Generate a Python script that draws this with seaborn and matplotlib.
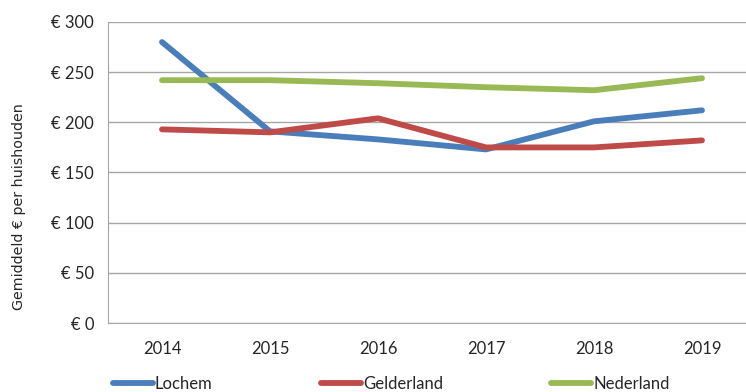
import pandas as pd
import numpy as np
import matplotlib
matplotlib.use("Agg")
import matplotlib.pyplot as plt
from matplotlib.ticker import FixedLocator, FuncFormatter
import seaborn as sns

# values
years = ["2014", "2015", "2016", "2017", "2018", "2019"]
lochem = [280, 191, 183, 173, 201, 212]
gelderland = [193, 190, 204, 175, 175, 182]
nederland = [242, 242, 239, 235, 232, 244]

series_names = ["Lochem", "Gelderland", "Nederland"]
colors = ["#4A7EBB", "#BE4B48", "#98B954"]

df = pd.DataFrame({
    "jaar": years * 3,
    "waarde": lochem + gelderland + nederland,
    "regio": np.repeat(series_names, len(years)),
})

sns.set_style("white")
plt.rcParams["font.family"] = ["Lato", "DejaVu Sans"]

fig = plt.figure(figsize=(7.46, 3.92), dpi=100)
ax = fig.add_axes([108 / 746, 69 / 392, 648 / 746, 301 / 392])

sns.lineplot(data=df, x="jaar", y="waarde", hue="regio", palette=colors,
             hue_order=series_names, linewidth=4.2, ax=ax, sort=False,
             solid_capstyle="round", legend=True)

ax.set_xlim(-0.5, 5.5)
ax.set_ylim(0, 300)
ax.set_yticks(range(0, 301, 50))
ax.yaxis.set_major_formatter(FuncFormatter(lambda v, p: f"€ {int(v)}"))
ax.grid(axis="y", color="#A6A6A6", linewidth=1)
ax.set_axisbelow(True)

for side in ["top", "right"]:
    ax.spines[side].set_visible(False)
ax.spines["left"].set_color("#A6A6A6")
ax.spines["bottom"].set_color("#A6A6A6")

# category ticks sit between the years
ax.xaxis.set_minor_locator(FixedLocator(np.arange(-0.5, 6.0, 1.0)))
ax.tick_params(axis="x", which="minor", length=6, color="#A6A6A6", width=1)
ax.tick_params(axis="x", which="major", length=0, pad=13, labelsize=12)
ax.tick_params(axis="y", which="major", direction="out", length=6,
               color="#A6A6A6", width=1, labelsize=12, pad=4)

ax.set_xlabel("")
ax.set_ylabel("Gemiddeld € per huishouden", family="DejaVu Sans", fontsize=10.3)
ax.yaxis.set_label_coords(-82 / 648, 0.385)

handles, labels = ax.get_legend_handles_labels()
ax.legend_.remove()
for h in handles:
    h.set_solid_capstyle("round")
fig.legend(handles, labels, loc="center left", ncol=3,
           bbox_to_anchor=(113 / 746, 8 / 392), frameon=False,
           fontsize=12, handlelength=2.4, handletextpad=0.12,
           columnspacing=6.5, borderaxespad=0, borderpad=0)

fig.savefig("out.png", dpi=100)
